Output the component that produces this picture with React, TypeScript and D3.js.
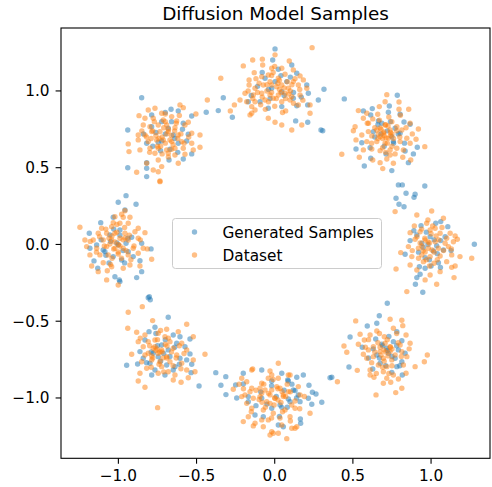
import React from "react";
import * as d3 from "d3";

type P = [number, number];

// ---- Generated samples (blue), grouped by mode ----
const genTop: P[] = [[0.002,1.274],[-0.013,1.202],[0.109,1.169],[0.023,1.141],[0.141,1.115],[-0.062,1.083],[0.002,1.061],[0.077,1.061],[0.205,1.039],[-0.019,1.018],[0.045,0.995],[0.119,0.952],[0.215,0.985],[0.279,0.941],[0.315,1.011],[-0.094,0.930],[-0.041,0.887],[0.045,0.898],[0.141,0.904],[0.211,0.909],[-0.169,0.930],[0.134,0.805],[0.211,0.796],[0.296,0.746],[0.307,0.741],[-0.271,0.829],[-0.329,0.956],[-0.361,0.872],[-0.438,0.861],[0.445,0.948],[-0.04,1.01],[0.06,0.97],[-0.11,1.03],[0.10,1.09],[-0.03,0.95],[0.17,0.96],[-0.08,1.12],[0.04,1.10],[0.12,0.99],[-0.15,0.97]];
const genTopLeft: P[] = [[-0.851,0.956],[-0.663,0.881],[-0.617,0.870],[-0.531,0.837],[-0.787,0.844],[-0.723,0.800],[-0.585,0.790],[-0.787,0.767],[-0.681,0.757],[-0.553,0.718],[-0.819,0.659],[-0.723,0.674],[-0.649,0.713],[-0.563,0.674],[-0.745,0.666],[-0.670,0.620],[-0.617,0.659],[-0.531,0.590],[-0.676,0.550],[-0.585,0.557],[-0.819,0.533],[-0.819,0.496],[-0.819,0.442],[-0.94,0.746],[-0.94,0.500],[-0.70,0.72],[-0.76,0.73],[-0.64,0.69],[-0.73,0.61],[-0.66,0.80],[-0.84,0.72],[-0.59,0.75],[-0.78,0.64],[-0.70,0.86],[-0.62,0.60]];
const genTopRight: P[] = [[0.784,0.972],[0.624,0.885],[0.733,0.902],[0.567,0.870],[0.614,0.844],[0.727,0.861],[0.802,0.848],[0.663,0.805],[0.827,0.798],[0.866,0.783],[0.685,0.790],[0.770,0.757],[0.631,0.735],[0.802,0.724],[0.749,0.702],[0.557,0.663],[0.759,0.670],[0.520,0.622],[0.912,0.633],[0.834,0.609],[0.712,0.590],[0.887,0.590],[0.614,0.562],[0.855,0.533],[0.573,0.511],[0.749,0.481],[0.791,0.388],[0.816,0.388],[0.960,0.381],[0.840,0.334],[0.898,0.327],[0.891,0.307],[0.776,0.301],[0.795,0.262],[0.827,0.246],[0.72,0.74],[0.68,0.72],[0.76,0.66],[0.64,0.70],[0.79,0.72],[0.70,0.64],[0.74,0.80],[0.66,0.78],[0.83,0.66],[0.61,0.63]];
const genRight: P[] = [[0.936,0.122],[1.030,0.138],[1.062,0.149],[1.107,0.116],[0.909,0.062],[0.994,0.051],[1.062,0.025],[0.866,0.025],[0.941,0.008],[1.036,-0.008],[1.128,-0.040],[0.834,-0.064],[1.015,-0.042],[1.079,-0.036],[0.962,-0.086],[1.047,-0.119],[0.925,-0.145],[0.962,-0.155],[1.000,-0.140],[0.930,-0.194],[0.909,-0.216],[0.900,-0.259],[0.947,-0.311],[1.277,0.001],[0.720,-0.383],[0.98,0.00],[1.02,0.03],[0.95,-0.02],[1.04,-0.06],[0.97,0.08],[0.92,-0.05],[1.09,0.05],[0.99,-0.10],[0.89,0.09],[1.06,-0.15]];
const genBottomRight: P[] = [[0.669,-0.464],[0.592,-0.531],[0.653,-0.513],[0.482,-0.603],[0.560,-0.670],[0.646,-0.616],[0.781,-0.568],[0.685,-0.650],[0.759,-0.633],[0.813,-0.627],[0.717,-0.676],[0.791,-0.687],[0.834,-0.709],[0.653,-0.720],[0.727,-0.709],[0.770,-0.741],[0.813,-0.764],[0.674,-0.774],[0.627,-0.811],[0.781,-0.796],[0.749,-0.833],[0.816,-0.850],[0.475,-0.798],[0.365,-0.865],[0.72,-0.69],[0.69,-0.66],[0.75,-0.73],[0.67,-0.74],[0.78,-0.66],[0.63,-0.68],[0.71,-0.79],[0.80,-0.79],[0.73,-0.60],[0.60,-0.74]];
const genBottom: P[] = [[-0.377,-0.835],[-0.313,-0.861],[-0.344,-0.917],[-0.312,-0.978],[-0.243,-1.000],[-0.201,-0.909],[-0.250,-0.915],[-0.083,-0.818],[-0.019,-0.889],[0.083,-0.883],[0.141,-0.865],[0.183,-0.850],[0.130,-0.952],[0.219,-0.917],[0.241,-0.963],[0.264,-0.974],[0.215,-1.002],[0.301,-1.028],[0.162,-1.024],[0.087,-1.007],[-0.019,-1.067],[-0.126,-1.111],[0.023,-1.176],[0.164,-1.137],[0.166,-1.165],[0.237,-1.041],[0.034,-1.046],[-0.083,-1.002],[-0.169,-1.024],[0.354,-0.868],[-0.201,-0.839],[0.045,-0.839],[0.087,-0.889],[0.119,-0.948],[0.151,-0.980],[0.098,-1.024],[0.045,-1.061],[0.055,-1.187],[-0.073,-1.122],[-0.169,-0.991],[0.01,-0.99],[-0.05,-1.04],[0.06,-0.95],[-0.09,-0.96],[0.08,-1.06],[-0.02,-0.92],[0.14,-1.00],[-0.12,-1.05],[0.03,-1.12],[0.11,-0.91]];
const genBottomLeft: P[] = [[-0.809,-0.347],[-0.796,-0.360],[-0.681,-0.474],[-0.766,-0.539],[-0.804,-0.568],[-0.649,-0.590],[-0.606,-0.601],[-0.830,-0.622],[-0.723,-0.655],[-0.627,-0.644],[-0.542,-0.616],[-0.574,-0.666],[-0.862,-0.698],[-0.777,-0.709],[-0.681,-0.687],[-0.542,-0.713],[-0.841,-0.741],[-0.745,-0.731],[-0.606,-0.741],[-0.563,-0.752],[-0.798,-0.774],[-0.691,-0.785],[-0.638,-0.796],[-0.531,-0.780],[-0.947,-0.787],[-0.766,-0.818],[-0.649,-0.818],[-0.535,-0.835],[-0.787,-0.850],[-0.702,-0.850],[-0.484,-0.922],[-0.877,-0.779],[-0.71,-0.71],[-0.75,-0.66],[-0.67,-0.73],[-0.73,-0.76],[-0.79,-0.70],[-0.64,-0.67],[-0.70,-0.62],[-0.82,-0.77],[-0.61,-0.78],[-0.76,-0.58]];
const genLeft: P[] = [[-0.951,0.318],[-1.001,0.275],[-0.887,0.262],[-0.958,0.225],[-1.033,0.177],[-1.113,0.142],[-1.186,0.073],[-0.990,0.094],[-0.915,0.047],[-1.054,0.062],[-1.139,-0.003],[-1.182,-0.025],[-1.097,-0.036],[-1.001,-0.003],[-0.951,0.008],[-0.851,0.008],[-0.791,-0.029],[-1.156,-0.107],[-1.033,-0.079],[-0.979,-0.101],[-0.905,-0.079],[-0.862,-0.106],[-1.132,-0.155],[-0.851,-0.177],[-0.883,-0.216],[-1.022,-0.210],[-0.994,-0.231],[-0.990,-0.242],[-0.802,-0.340],[-1.086,-0.047],[-0.937,-0.047],[-1.01,0.01],[-0.97,-0.04],[-1.05,0.02],[-0.99,0.06],[-1.08,-0.07],[-0.94,0.04],[-1.03,0.10],[-1.11,0.03],[-0.96,-0.12],[-1.06,-0.12]];

// ---- Dataset (orange), grouped by mode ----
const dataTop: P[] = [[0.239,1.282],[-0.141,1.202],[-0.079,1.207],[0.002,1.235],[0.093,1.195],[-0.201,1.163],[-0.077,1.169],[-0.131,1.119],[-0.019,1.148],[0.045,1.148],[0.119,1.137],[0.162,1.098],[-0.164,1.072],[-0.083,1.093],[-0.041,1.104],[0.023,1.083],[0.066,1.109],[0.119,1.061],[0.183,1.072],[-0.164,1.039],[-0.126,1.018],[-0.073,1.039],[-0.019,1.039],[0.013,1.028],[0.045,1.039],[0.087,1.018],[0.151,1.039],[0.205,1.018],[-0.190,0.985],[-0.137,0.974],[-0.083,0.985],[-0.030,0.974],[0.023,0.974],[0.066,0.985],[0.109,0.963],[0.162,0.974],[-0.222,0.941],[-0.179,0.930],[-0.126,0.930],[-0.062,0.941],[-0.009,0.952],[0.045,0.930],[0.098,0.941],[0.151,0.909],[0.226,0.909],[-0.258,0.909],[-0.147,0.898],[-0.147,0.855],[-0.126,0.876],[-0.158,0.844],[-0.041,0.822],[0.002,0.796],[0.045,0.778],[0.109,0.746],[0.173,0.778],[0.226,0.855],[-0.284,0.870],[-0.345,1.083],[-0.431,0.941],[-0.05,1.00],[0.03,1.01],[-0.10,1.05],[0.08,1.06],[0.00,0.90],[-0.06,0.88],[0.07,0.87],[0.12,0.92],[-0.02,1.10],[0.04,0.99],[-0.11,0.99],[0.10,1.00],[0.02,1.05],[-0.04,0.93],[-0.03,1.06],[0.06,1.02],[-0.08,0.96],[0.01,0.95],[0.09,0.98],[-0.12,1.08],[0.13,1.08],[-0.01,1.12],[0.05,0.86],[-0.09,0.91],[0.18,0.94],[-0.17,1.00],[0.03,1.07],[-0.05,1.04],[0.11,1.04],[-0.02,0.99],[0.07,0.95],[-0.14,0.95],[0.16,1.01],[0.00,1.16]];
const dataTopLeft: P[] = [[-0.868,0.839],[-0.809,0.876],[-0.766,0.887],[-0.723,0.855],[-0.606,0.909],[-0.585,0.891],[-0.830,0.822],[-0.777,0.822],[-0.713,0.811],[-0.659,0.833],[-0.627,0.805],[-0.553,0.796],[-0.504,0.850],[-0.841,0.778],[-0.798,0.767],[-0.745,0.778],[-0.691,0.778],[-0.638,0.761],[-0.574,0.778],[-0.873,0.713],[-0.830,0.713],[-0.787,0.735],[-0.734,0.735],[-0.681,0.735],[-0.617,0.713],[-0.531,0.724],[-0.478,0.713],[-0.873,0.681],[-0.809,0.670],[-0.755,0.681],[-0.713,0.681],[-0.659,0.670],[-0.595,0.670],[-0.531,0.659],[-0.478,0.633],[-0.862,0.616],[-0.798,0.627],[-0.745,0.627],[-0.691,0.616],[-0.638,0.627],[-0.585,0.627],[-0.521,0.616],[-0.937,0.655],[-0.932,0.605],[-0.766,0.594],[-0.681,0.594],[-0.638,0.583],[-0.574,0.588],[-0.745,0.550],[-0.819,0.529],[-0.617,0.529],[-0.777,0.485],[-0.745,0.474],[-0.883,0.470],[-0.734,0.414],[-0.723,0.507],[-0.72,0.70],[-0.66,0.71],[-0.70,0.66],[-0.76,0.71],[-0.68,0.75],[-0.62,0.69],[-0.73,0.64],[-0.65,0.65],[-0.79,0.69],[-0.70,0.80],[-0.69,0.72],[-0.74,0.69],[-0.64,0.74],[-0.78,0.74],[-0.67,0.68],[-0.71,0.76],[-0.60,0.72],[-0.82,0.70],[-0.75,0.64],[-0.66,0.62],[-0.58,0.66],[-0.70,0.85],[-0.77,0.80],[-0.63,0.79],[-0.85,0.74],[-0.55,0.70],[-0.72,0.59],[-0.80,0.60],[-0.68,0.57],[-0.61,0.84]];
const dataTopRight: P[] = [[0.717,0.976],[0.706,0.930],[0.795,0.928],[0.535,0.872],[0.669,0.898],[0.795,0.881],[0.857,0.881],[0.589,0.855],[0.659,0.848],[0.804,0.842],[0.567,0.822],[0.627,0.818],[0.749,0.800],[0.514,0.767],[0.592,0.790],[0.706,0.778],[0.781,0.767],[0.866,0.790],[0.919,0.752],[0.503,0.741],[0.599,0.735],[0.653,0.746],[0.695,0.724],[0.738,0.746],[0.813,0.746],[0.557,0.713],[0.621,0.707],[0.674,0.702],[0.727,0.692],[0.845,0.692],[0.904,0.685],[0.520,0.681],[0.589,0.670],[0.653,0.670],[0.706,0.659],[0.802,0.670],[0.866,0.659],[0.567,0.616],[0.621,0.622],[0.674,0.611],[0.738,0.616],[0.781,0.627],[0.823,0.616],[0.960,0.637],[0.429,0.588],[0.541,0.568],[0.627,0.550],[0.674,0.533],[0.717,0.557],[0.759,0.529],[0.819,0.568],[0.870,0.550],[0.691,0.494],[0.738,0.583],[0.674,0.759],[0.725,0.772],[0.699,0.733],[0.750,0.720],[0.712,0.694],[0.663,0.720],[0.740,0.710],[0.690,0.690],[0.70,0.71],[0.74,0.73],[0.68,0.75],[0.76,0.69],[0.72,0.66],[0.66,0.69],[0.78,0.74],[0.71,0.78],[0.64,0.76],[0.80,0.70],[0.69,0.63],[0.75,0.64],[0.62,0.66],[0.84,0.76],[0.73,0.83],[0.67,0.81],[0.77,0.59],[0.60,0.79],[0.88,0.72],[0.71,0.60]];
const dataRight: P[] = [[0.770,0.214],[0.909,0.192],[1.004,0.218],[1.079,0.171],[0.893,0.121],[0.972,0.138],[1.026,0.106],[0.866,0.077],[0.930,0.083],[0.994,0.094],[1.058,0.073],[1.122,0.073],[1.154,0.055],[1.168,0.034],[0.898,0.034],[0.962,0.029],[1.026,0.018],[1.090,0.008],[1.143,0.018],[0.855,-0.014],[0.919,-0.025],[0.983,-0.025],[1.047,-0.025],[1.111,-0.014],[0.806,-0.053],[0.877,-0.079],[0.941,-0.068],[0.994,-0.079],[1.058,-0.075],[1.132,-0.068],[1.185,-0.079],[1.260,-0.090],[0.866,-0.134],[0.951,-0.112],[1.019,-0.122],[1.100,-0.112],[1.154,-0.140],[0.776,-0.160],[0.909,-0.166],[0.994,-0.199],[1.058,-0.177],[1.132,-0.149],[1.147,-0.216],[1.036,-0.259],[0.845,-0.307],[0.962,-0.231],[0.981,0.016],[1.006,-0.036],[0.942,-0.010],[1.032,0.055],[0.962,-0.049],[0.99,0.01],[0.96,0.04],[1.02,-0.05],[0.95,-0.04],[1.05,0.03],[0.93,0.01],[1.00,0.07],[1.04,-0.10],[0.97,-0.10],[1.08,-0.04],[0.91,0.05],[1.01,0.12],[0.94,0.10],[1.10,0.04],[0.88,-0.04],[0.99,-0.14],[1.07,0.11],[0.92,-0.09],[1.13,-0.03],[0.98,0.16]];
const dataBottomRight: P[] = [[0.518,-0.498],[0.738,-0.487],[0.813,-0.494],[0.653,-0.564],[0.759,-0.546],[0.819,-0.529],[0.546,-0.585],[0.610,-0.590],[0.701,-0.601],[0.840,-0.590],[0.573,-0.622],[0.535,-0.650],[0.631,-0.666],[0.706,-0.644],[0.738,-0.666],[0.802,-0.655],[0.866,-0.644],[0.443,-0.661],[0.599,-0.687],[0.674,-0.698],[0.738,-0.698],[0.813,-0.698],[0.461,-0.702],[0.567,-0.715],[0.631,-0.731],[0.695,-0.741],[0.749,-0.752],[0.845,-0.731],[0.976,-0.720],[0.589,-0.741],[0.663,-0.785],[0.717,-0.796],[0.823,-0.785],[0.957,-0.764],[0.898,-0.796],[0.528,-0.820],[0.610,-0.818],[0.695,-0.829],[0.759,-0.850],[0.840,-0.839],[0.610,-0.850],[0.635,-0.865],[0.717,-0.872],[0.695,-0.904],[0.742,-0.898],[0.791,-0.876],[0.401,-0.894],[0.813,-0.937],[0.774,-0.965],[0.648,-0.980],[0.699,-0.687],[0.725,-0.726],[0.674,-0.670],[0.750,-0.681],[0.71,-0.70],[0.68,-0.72],[0.74,-0.67],[0.70,-0.76],[0.66,-0.64],[0.77,-0.72],[0.64,-0.70],[0.72,-0.62],[0.79,-0.64],[0.69,-0.80],[0.75,-0.79],[0.62,-0.77],[0.81,-0.73],[0.67,-0.58],[0.58,-0.67],[0.86,-0.68],[0.73,-0.84],[0.60,-0.62],[0.78,-0.58],[0.65,-0.84]];
const dataBottom: P[] = [[-0.141,-0.811],[-0.030,-0.824],[0.023,-0.774],[0.087,-0.850],[-0.211,-0.872],[-0.265,-0.943],[-0.228,-0.911],[-0.190,-0.980],[-0.211,-0.991],[-0.147,-0.937],[-0.083,-0.969],[-0.019,-0.948],[0.034,-0.937],[0.087,-0.959],[-0.083,-0.904],[0.023,-0.872],[-0.041,-0.872],[-0.137,-1.002],[-0.051,-1.024],[0.002,-1.002],[0.055,-0.980],[0.109,-1.046],[0.162,-0.980],[-0.147,-1.067],[-0.073,-1.078],[-0.009,-1.100],[0.066,-1.078],[0.130,-1.067],[0.226,-1.100],[-0.201,-1.154],[-0.137,-1.182],[-0.073,-1.187],[-0.019,-1.220],[0.045,-1.176],[0.109,-1.197],[0.141,-1.187],[-0.030,-1.241],[0.023,-1.230],[0.077,-1.265],[-0.169,-1.122],[-0.083,-1.143],[-0.147,-0.818],[-0.179,-0.894],[-0.158,-0.959],[-0.094,-0.937],[-0.019,-0.850],[0.098,-0.850],[0.013,-0.926],[-0.094,-0.991],[0.055,-0.991],[0.151,-0.926],[-0.126,-1.165],[-0.041,-1.143],[-0.009,-1.230],[0.130,-1.197],[0.034,-1.131],[0.098,-1.122],[-0.179,-1.035],[-0.030,-1.035],[-0.030,-0.980],[0.021,-1.013],[-0.062,-0.948],[0.047,-0.959],[-0.004,-1.046],[-0.081,-1.028],[0.00,-1.00],[-0.04,-0.97],[0.04,-1.03],[-0.06,-1.06],[0.07,-0.99],[-0.10,-1.01],[0.02,-0.94],[0.10,-0.96],[-0.07,-0.91],[0.05,-1.09],[-0.02,-1.13],[0.13,-1.02],[-0.12,-0.95],[0.08,-0.91],[-0.15,-1.09],[0.16,-1.07],[-0.01,-0.88],[0.19,-0.99],[-0.20,-0.94],[0.10,-1.15]];
const dataBottomLeft: P[] = [[-0.937,-0.442],[-0.847,-0.405],[-0.940,-0.546],[-0.781,-0.496],[-0.563,-0.520],[-0.691,-0.552],[-0.617,-0.568],[-0.883,-0.572],[-0.830,-0.590],[-0.745,-0.578],[-0.702,-0.601],[-0.521,-0.601],[-0.873,-0.633],[-0.809,-0.633],[-0.766,-0.622],[-0.670,-0.633],[-0.595,-0.644],[-0.841,-0.666],[-0.777,-0.676],[-0.723,-0.687],[-0.649,-0.676],[-0.563,-0.687],[-0.915,-0.715],[-0.809,-0.709],[-0.745,-0.709],[-0.691,-0.731],[-0.627,-0.720],[-0.446,-0.715],[-0.851,-0.764],[-0.787,-0.752],[-0.734,-0.764],[-0.670,-0.764],[-0.595,-0.774],[-0.521,-0.752],[-0.819,-0.806],[-0.723,-0.796],[-0.681,-0.829],[-0.563,-0.818],[-0.510,-0.829],[-0.862,-0.839],[-0.745,-0.839],[-0.638,-0.850],[-0.553,-0.868],[-0.873,-0.889],[-0.649,-0.883],[-0.599,-0.898],[-0.830,-0.930],[-0.749,-1.063],[-0.766,-0.666],[-0.734,-0.700],[-0.715,-0.739],[-0.753,-0.681],[-0.689,-0.661],[-0.787,-0.726],[-0.72,-0.70],[-0.69,-0.74],[-0.76,-0.69],[-0.70,-0.65],[-0.78,-0.74],[-0.66,-0.70],[-0.74,-0.78],[-0.80,-0.66],[-0.63,-0.74],[-0.68,-0.61],[-0.75,-0.62],[-0.61,-0.66],[-0.83,-0.72],[-0.71,-0.83],[-0.65,-0.79],[-0.79,-0.80],[-0.58,-0.71],[-0.86,-0.61],[-0.73,-0.56],[-0.60,-0.81]];
const dataLeft: P[] = [[-0.734,0.409],[-0.958,0.220],[-1.022,0.181],[-0.969,0.177],[-0.926,0.177],[-0.990,0.138],[-0.937,0.138],[-1.246,0.112],[-1.107,0.106],[-1.043,0.116],[-0.873,0.106],[-0.830,0.077],[-1.129,0.073],[-1.075,0.073],[-1.022,0.073],[-0.958,0.073],[-0.894,0.083],[-1.214,0.029],[-1.161,0.029],[-1.097,0.029],[-1.043,0.029],[-0.990,0.040],[-0.937,0.029],[-0.873,0.040],[-1.203,-0.014],[-1.139,-0.025],[-1.075,-0.014],[-1.022,-0.025],[-0.969,-0.025],[-0.905,-0.025],[-0.841,-0.025],[-0.815,-0.029],[-1.182,-0.068],[-1.118,-0.068],[-1.065,-0.068],[-1.001,-0.062],[-0.937,-0.068],[-0.873,-0.057],[-0.787,-0.096],[-1.171,-0.140],[-1.097,-0.119],[-1.043,-0.145],[-0.969,-0.155],[-0.926,-0.134],[-0.862,-0.140],[-1.129,-0.177],[-1.071,-0.171],[-1.075,-0.231],[-1.001,-0.264],[-1.033,0.142],[-0.979,0.197],[-1.022,0.016],[-0.990,-0.010],[-1.054,0.003],[-0.958,0.042],[-1.001,-0.049],[-1.041,0.055],[-1.00,0.00],[-1.03,-0.03],[-0.97,0.03],[-1.06,0.04],[-0.95,-0.04],[-1.01,0.08],[-1.09,-0.01],[-0.93,0.06],[-1.04,-0.09],[-0.98,-0.09],[-1.12,0.05],[-0.90,-0.01],[-1.01,0.13],[-0.96,0.11],[-1.08,0.10],[-1.14,-0.05],[-0.92,-0.10],[-1.05,-0.13],[-0.86,0.03],[-1.18,0.02]];

const generatedSamples: P[] = [...genTop, ...genTopLeft, ...genTopRight, ...genRight, ...genBottomRight, ...genBottom, ...genBottomLeft, ...genLeft];
const datasetSamples: P[] = [...dataTop, ...dataTopLeft, ...dataTopRight, ...dataRight, ...dataBottomRight, ...dataBottom, ...dataBottomLeft, ...dataLeft];

const xTicks = [-1.0, -0.5, 0.0, 0.5, 1.0];
const yTicks = [-1.0, -0.5, 0.0, 0.5, 1.0];
const seriesNames = ["Generated Samples", "Dataset"];
const seriesColors = ["#1f77b4", "#ff7f0e"];
const title = "Diffusion Model Samples";

const W = 492, H = 487;
const plot = { left: 61, right: 490, top: 28, bottom: 458.3 };
const FONT = "DejaVu Sans, sans-serif";
const TICK_FS = 15.3;

const fmt = (v: number) => d3.format(".1f")(v).replace("-", "\u2212");

export default function App() {
  const x = d3.scaleLinear().domain([-1.367, 1.377]).range([plot.left, plot.right]);
  const y = d3.scaleLinear().domain([-1.393, 1.41]).range([plot.bottom, plot.top]);
  const r = 2.7;
  const series = [generatedSamples, datasetSamples];

  return (
    <svg width={W} height={H} style={{ position: "absolute", left: 0, top: 0, background: "#fff" }} fontFamily={FONT}>
      <rect x={0} y={0} width={W} height={H} fill="#fff" />
      {series.map((pts, si) => (
        <g key={si} fill={seriesColors[si]} fillOpacity={0.5}>
          {pts.map((p, i) => (
            <circle key={i} cx={x(p[0])} cy={y(p[1])} r={r} />
          ))}
        </g>
      ))}
      <rect x={plot.left} y={plot.top} width={plot.right - plot.left} height={plot.bottom - plot.top} fill="none" stroke="#000" strokeWidth={1.1} />
      {xTicks.map((t) => (
        <g key={"x" + t}>
          <line x1={x(t)} x2={x(t)} y1={plot.bottom} y2={plot.bottom + 5.4} stroke="#000" strokeWidth={1.1} />
          <text x={x(t)} y={plot.bottom + 22.5} textAnchor="middle" fontSize={TICK_FS} fill="#000">{fmt(t)}</text>
        </g>
      ))}
      {yTicks.map((t) => (
        <g key={"y" + t}>
          <line x1={plot.left - 5.4} x2={plot.left} y1={y(t)} y2={y(t)} stroke="#000" strokeWidth={1.1} />
          <text x={plot.left - 11.5} y={y(t)} dy="0.36em" textAnchor="end" fontSize={TICK_FS} fill="#000">{fmt(t)}</text>
        </g>
      ))}
      <text x={(plot.left + plot.right) / 2} y={19.5} textAnchor="middle" fontSize={18.4} fill="#000">{title}</text>
      <g>
        <rect x={172.5} y={218.5} width={209} height={50} rx={3} ry={3} fill="#fff" fillOpacity={0.8} stroke="#cccccc" strokeWidth={1} />
        {seriesNames.map((name, i) => (
          <g key={name}>
            <circle cx={194.5} cy={232 + i * 23} r={r} fill={seriesColors[i]} fillOpacity={0.5} />
            <text x={222.5} y={232 + i * 23} dy="0.36em" fontSize={TICK_FS} fill="#000">{name}</text>
          </g>
        ))}
      </g>
    </svg>
  );
}
